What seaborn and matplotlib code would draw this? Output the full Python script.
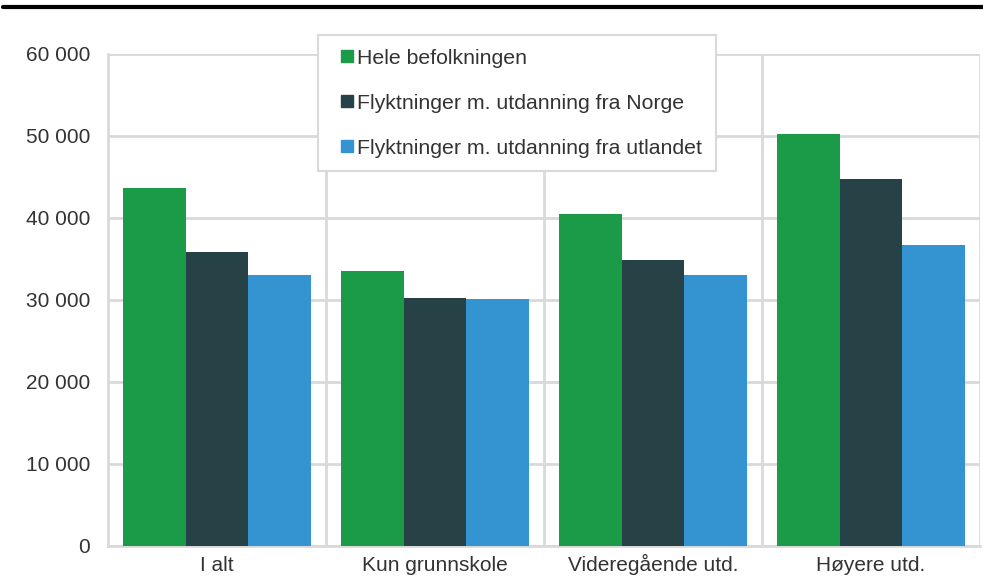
import matplotlib
matplotlib.use("Agg")
import matplotlib.pyplot as plt
from matplotlib.lines import Line2D
from matplotlib.ticker import FuncFormatter, MultipleLocator
import pandas as pd
import seaborn as sns

categories = ["I alt", "Kun grunnskole", "Videregående utd.", "Høyere utd."]
series_names = [
    "Hele befolkningen",
    "Flyktninger m. utdanning fra Norge",
    "Flyktninger m. utdanning fra utlandet",
]
hele_befolkningen = [43700, 33500, 40500, 50200]
utd_norge = [35800, 30200, 34850, 44800]
utd_utlandet = [33000, 30100, 33100, 36700]
colors = ["#1b9b48", "#274247", "#3494d2"]

df = pd.DataFrame({
    "kategori": categories * 3,
    "gruppe": [series_names[0]] * 4 + [series_names[1]] * 4 + [series_names[2]] * 4,
    "verdi": hele_befolkningen + utd_norge + utd_utlandet,
})

sns.set_theme(style="white")
plt.rcParams["font.family"] = ["Liberation Sans", "DejaVu Sans"]

fig = plt.figure(figsize=(9.83, 5.83), dpi=100)
ax = fig.add_axes([0.1099, 0.0635, 0.887, 0.8439])

grid_c = "#d9d9d9"
text_c = "#333333"
sns.barplot(data=df, x="kategori", y="verdi", hue="gruppe", order=categories,
            hue_order=series_names, palette=colors, saturation=1, width=0.86,
            linewidth=0, ax=ax, zorder=3)

ax.set_ylim(0, 60000)
ax.set_xlim(-0.5, 3.5)
ax.yaxis.set_major_locator(MultipleLocator(10000))
ax.yaxis.set_major_formatter(FuncFormatter(lambda v, p: f"{int(v):,}".replace(",", " ")))
ax.set_xlabel("")
ax.set_ylabel("")

# horizontal grid plus vertical separators between categories
ax.grid(axis="y", color=grid_c, linewidth=2, zorder=0)
for xv in [0.5, 1.5, 2.5, 3.5]:
    ax.axvline(xv, color=grid_c, linewidth=2, zorder=0)
for side in ["top", "right"]:
    ax.spines[side].set_visible(False)
for side in ["left", "bottom"]:
    ax.spines[side].set_color(grid_c)
    ax.spines[side].set_linewidth(2)

ax.tick_params(axis="both", length=0, labelsize=15, labelcolor=text_c)
ax.tick_params(axis="y", pad=13)
ax.tick_params(axis="x", pad=18)
for lab in ax.get_xticklabels():
    lab.set_verticalalignment("baseline")

handles = [Line2D([], [], marker="s", linestyle="none", markersize=8,
                  markerfacecolor=c, markeredgecolor=c) for c in colors]
leg = ax.legend(handles, series_names, loc="upper left",
                bbox_to_anchor=(0.3235, 0.94), bbox_transform=fig.transFigure,
                prop={"size": 15.3}, frameon=True, fancybox=False, framealpha=1,
                edgecolor=grid_c, handlelength=1.4, handletextpad=-0.2,
                labelspacing=1.22, borderpad=0.65, borderaxespad=0)
leg.get_frame().set_linewidth(1.5)
for t in leg.get_texts():
    t.set_color(text_c)
leg.set_zorder(5)

# heavy rule across the top
fig.add_artist(Line2D([0.003, 1.0], [0.9885, 0.9885], transform=fig.transFigure,
                      color="black", linewidth=3))

fig.savefig("out.png", dpi=100, facecolor="white")
